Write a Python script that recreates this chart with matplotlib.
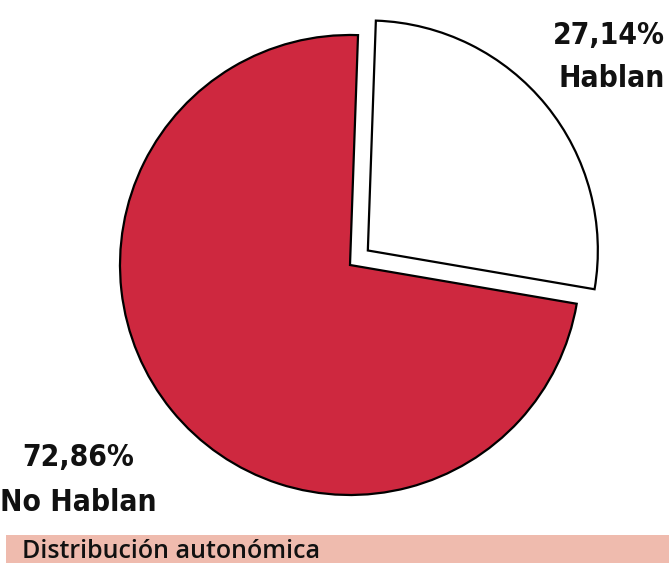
import matplotlib
matplotlib.use("Agg")
import matplotlib.pyplot as plt
from matplotlib.patches import Rectangle

# Share of population that speaks the language
labels = ["Hablan", "No Hablan"]
values = [27.14, 72.86]
value_text = ["27,14%", "72,86%"]
colors = ["#FFFFFF", "#CE283F"]
explode_frac = [0.1, 0.0]
footer = "Distribución autonómica"

W, H = 669, 563
R = 230
fig = plt.figure(figsize=(W / 100, H / 100), dpi=100)
ax = fig.add_axes([0, 0, 1, 1])
ax.set_xlim(0, W)
ax.set_ylim(0, H)
ax.set_aspect("equal")
ax.axis("off")

# pie() offsets exploded wedges in data units, so scale by the radius
ax.pie(values, colors=colors, explode=[e * R for e in explode_frac],
       startangle=88, counterclock=False, center=(350, H - 265), radius=R,
       wedgeprops=dict(edgecolor="black", linewidth=1.6))
ax.set_xlim(0, W)
ax.set_ylim(0, H)

lab_font = dict(family="DejaVu Sans", stretch="condensed",
                weight="bold", fontsize=21.5, color="#111111")
ax.text(665, H - 57, f"{value_text[0]}\n{labels[0]}", ha="right", va="center",
        linespacing=1.6, **lab_font)
ax.text(78, H - 480, f"{value_text[1]}\n{labels[1]}", ha="center", va="center",
        linespacing=1.7, **lab_font)

# Footer band
ax.add_patch(Rectangle((6, 0), W - 6, H - 535, facecolor="#EFBBAE",
                       edgecolor="none"))
ax.text(22, H - 551, footer, ha="left", va="center", fontsize=18,
        family=["Open Sans", "DejaVu Sans"], weight="semibold", color="#111111")

fig.savefig("out.png", dpi=100)
